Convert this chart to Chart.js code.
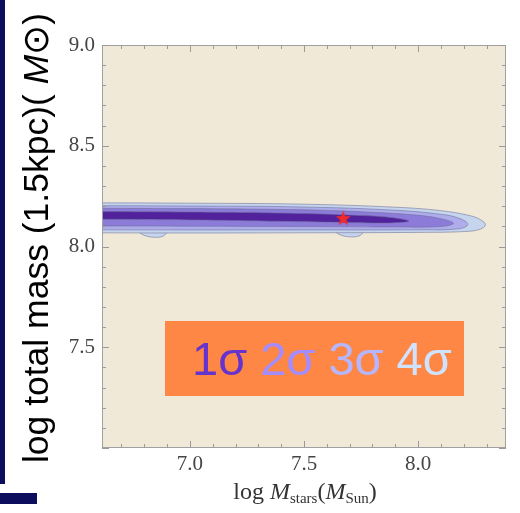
<!DOCTYPE html>
<html>
<head>
<meta charset="utf-8">
<script src="https://cdn.jsdelivr.net/npm/chart.js@4.4.1/dist/chart.umd.min.js"></script>
<style>
    html, body { margin: 0; padding: 0; background: #fff; }
    #wrap { position: relative; width: 520px; height: 513px; overflow: hidden; }
    .navy { position: absolute; background: #0d0d5e; }
</style>
</head>
<body>
<div id="wrap">
    <canvas id="massChart" width="520" height="513"></canvas>
    <div class="navy" style="left:0;top:0;width:5px;height:484px"></div>
    <div class="navy" style="left:0;top:493px;width:37px;height:11px"></div>
</div>
<script>
// Axis ticks
const xTicks = [7.0, 7.5, 8.0];
const yTicks = [7.5, 8.0, 8.5, 9.0];
const sigmaLabels = ['1σ', '2σ', '3σ', '4σ'];

// Best fit (red star)
const bestFit = [7.672, 8.141];

// Contour outlines: upper edge left -> tip, then lower edge tip -> left
const sigma1Top = [[6.50, 8.174], [7.0, 8.171], [7.4, 8.166], [7.7, 8.156], [7.88, 8.144], [7.96, 8.126]];
const sigma1Bottom = [[7.88, 8.117], [7.7, 8.119], [7.4, 8.125], [7.0, 8.132], [6.50, 8.136]];

const sigma2Top = [[6.50, 8.190], [7.0, 8.188], [7.5, 8.182], [7.8, 8.170], [8.0, 8.155], [8.10, 8.138], [8.155, 8.115]];
const sigma2Bottom = [[8.10, 8.099], [7.9, 8.097], [7.5, 8.099], [7.0, 8.101], [6.50, 8.102]];

const sigma3Top = [[6.50, 8.203], [7.0, 8.201], [7.5, 8.196], [7.9, 8.180], [8.1, 8.160], [8.18, 8.140], [8.218, 8.110]];
const sigma3Bottom = [[8.18, 8.088], [8.0, 8.083], [7.5, 8.082], [7.0, 8.082], [6.50, 8.083]];

const sigma4Top = [[6.50, 8.217], [7.0, 8.215], [7.5, 8.210], [7.9, 8.195], [8.1, 8.178], [8.22, 8.155], [8.27, 8.135], [8.295, 8.108]];
const sigma4Bottom = [[8.27, 8.085], [8.2, 8.074], [8.0, 8.070], [7.5, 8.068], [7.0, 8.067], [6.50, 8.068]];

// small islands under the outer contour
const islandA = [[6.78, 8.068], [6.80, 8.055], [6.84, 8.046], [6.88, 8.050], [6.90, 8.068]];
const islandB = [[7.64, 8.070], [7.66, 8.057], [7.70, 8.048], [7.74, 8.052], [7.76, 8.068]];

const fillColors = ['#52229c', '#8c7bd8', '#aeaceb', '#c6d5ee'];
const textColors = ['#6633cc', '#a38cff', '#b6b6ff', '#cfe3ff'];

function toPoints(pairs) {
    return pairs.map(p => ({ x: p[0], y: p[1] }));
}

function contour(top, bottom, color) {
    return {
        data: toPoints(top.concat(bottom)),
        showLine: true,
        fill: 'shape',
        backgroundColor: color,
        borderColor: 'rgba(105, 110, 150, 0.55)',
        borderWidth: 1,
        tension: 0.4,
        pointRadius: 0
    };
}

// filled five point star for the best fit marker
function makeStar() {
    const c = document.createElement('canvas');
    c.width = 16; c.height = 16;
    const g = c.getContext('2d');
    g.beginPath();
    for (let i = 0; i < 10; i++) {
        const r = i % 2 === 0 ? 8 : 3.3;
        const a = -Math.PI / 2 + i * Math.PI / 5;
        g.lineTo(8 + r * Math.cos(a), 8.6 + r * Math.sin(a));
    }
    g.closePath();
    g.fillStyle = '#f02a2a';
    g.fill();
    return c;
}

function drawRuns(ctx, runs, x, y) {
    let cx = x;
    runs.forEach(r => {
        ctx.font = r[1];
        ctx.fillText(r[0], cx, y + (r[2] || 0));
        cx += ctx.measureText(r[0]).width;
    });
}

function runsWidth(ctx, runs) {
    let w = 0;
    runs.forEach(r => { ctx.font = r[1]; w += ctx.measureText(r[0]).width; });
    return w;
}

const serif = "'Liberation Serif', 'Times New Roman', serif";
const sans = "'Liberation Sans', Arial, sans-serif";

const framePlugin = {
    id: 'frame',
    beforeDatasetsDraw(chart) {
        const { ctx, chartArea: a } = chart;
        ctx.save();
        ctx.fillStyle = '#f1e9d8';
        ctx.fillRect(a.left, a.top, a.right - a.left, a.bottom - a.top);
        ctx.restore();
    },
    afterDatasetsDraw(chart) {
        const { ctx, chartArea: a, scales } = chart;
        ctx.save();
        // frame
        ctx.strokeStyle = '#a0a0a0';
        ctx.lineWidth = 1;
        ctx.strokeRect(a.left + 0.5, a.top + 0.5, a.right - a.left - 1, a.bottom - a.top - 1);
        // inward ticks every 0.1
        ctx.strokeStyle = '#9a9a9a';
        ctx.beginPath();
        for (let v = Math.ceil(scales.x.min * 10) / 10; v <= scales.x.max; v += 0.1) {
            const px = Math.round(scales.x.getPixelForValue(v)) + 0.5;
            const major = Math.abs(v * 2 - Math.round(v * 2)) < 1e-6;
            const len = major ? 7 : 4;
            ctx.moveTo(px, a.bottom); ctx.lineTo(px, a.bottom - len);
            ctx.moveTo(px, a.top); ctx.lineTo(px, a.top + len);
        }
        for (let v = Math.ceil(scales.y.min * 10) / 10; v <= scales.y.max + 1e-6; v += 0.1) {
            const py = Math.round(scales.y.getPixelForValue(v)) + 0.5;
            const major = Math.abs(v * 2 - Math.round(v * 2)) < 1e-6;
            const len = major ? 7 : 4;
            ctx.moveTo(a.left, py); ctx.lineTo(a.left + len, py);
            ctx.moveTo(a.right, py); ctx.lineTo(a.right - len, py);
        }
        ctx.stroke();

        // tick labels (serif, like the original)
        ctx.fillStyle = '#454545';
        ctx.font = '21px ' + serif;
        ctx.textAlign = 'center';
        ctx.textBaseline = 'alphabetic';
        xTicks.forEach(v => {
            ctx.fillText(v.toFixed(1), scales.x.getPixelForValue(v), a.bottom + 22);
        });
        ctx.textAlign = 'right';
        ctx.textBaseline = 'middle';
        yTicks.forEach(v => {
            ctx.fillText(v.toFixed(1), a.left - 7, scales.y.getPixelForValue(v));
        });

        // sigma key box
        const bx = a.left + 63, by = a.top + 276;
        ctx.fillStyle = '#fe8746';
        ctx.fillRect(bx, by, 299, 75);
        ctx.textAlign = 'left';
        ctx.textBaseline = 'alphabetic';
        ctx.font = '47px ' + sans;
        let tx = a.left + 90;
        sigmaLabels.forEach((s, i) => {
            ctx.fillStyle = textColors[i];
            ctx.fillText(s, tx, a.top + 330);
            tx += ctx.measureText(s + ' ').width;
        });
        ctx.restore();
    },
    afterDraw(chart) {
        const { ctx, chartArea: a } = chart;
        ctx.save();
        ctx.textBaseline = 'alphabetic';
        // x title
        const xRuns = [
            ['log ', '24px ' + serif],
            ['M', 'italic 24px ' + serif],
            ['stars', '15px ' + serif, 4],
            ['(', '24px ' + serif],
            ['M', 'italic 24px ' + serif],
            ['Sun', '15px ' + serif, 4],
            [')', '24px ' + serif]
        ];
        ctx.fillStyle = '#333';
        const xw = runsWidth(ctx, xRuns);
        drawRuns(ctx, xRuns, (a.left + a.right) / 2 - xw / 2 + 1, 499);

        // y title
        const yRuns = [
            ['log total mass (1.5kpc)( ', '35.5px ' + sans],
            ['M', 'italic 35.5px ' + sans],
            ['⊙)', '35.5px ' + sans]
        ];
        ctx.fillStyle = '#000';
        const yw = runsWidth(ctx, yRuns);
        ctx.translate(48, 238);
        ctx.rotate(-Math.PI / 2);
        drawRuns(ctx, yRuns, -yw / 2, 0);
        ctx.restore();
    }
};

const datasets = [
    {
        data: [{ x: bestFit[0], y: bestFit[1] }],
        pointStyle: makeStar(),
        pointRadius: 8,
        showLine: false
    },
    contour(sigma1Top, sigma1Bottom, fillColors[0]),
    contour(sigma2Top, sigma2Bottom, fillColors[1]),
    contour(sigma3Top, sigma3Bottom, fillColors[2]),
    contour(sigma4Top, sigma4Bottom, fillColors[3]),
    contour(islandA, [], fillColors[3]),
    contour(islandB, [], fillColors[3])
];

new Chart(document.getElementById('massChart'), {
    type: 'scatter',
    data: { datasets: datasets },
    options: {
        responsive: false,
        animation: false,
        layout: { padding: { top: 45, right: 14, left: 0, bottom: 0 } },
        plugins: {
            legend: { display: false },
            tooltip: { enabled: false }
        },
        scales: {
            x: {
                type: 'linear',
                min: 6.615,
                max: 8.385,
                grid: { display: false, drawTicks: false },
                border: { display: false },
                afterBuildTicks: s => { s.ticks = xTicks.map(v => ({ value: v })); },
                afterFit: s => { s.height = 65; },
                ticks: { display: false }
            },
            y: {
                type: 'linear',
                min: 7.0,
                max: 9.0,
                grid: { display: false, drawTicks: false },
                border: { display: false },
                afterBuildTicks: s => { s.ticks = yTicks.map(v => ({ value: v })); },
                afterFit: s => { s.width = 102; },
                ticks: { display: false }
            }
        }
    },
    plugins: [framePlugin]
});
</script>
</body>
</html>
